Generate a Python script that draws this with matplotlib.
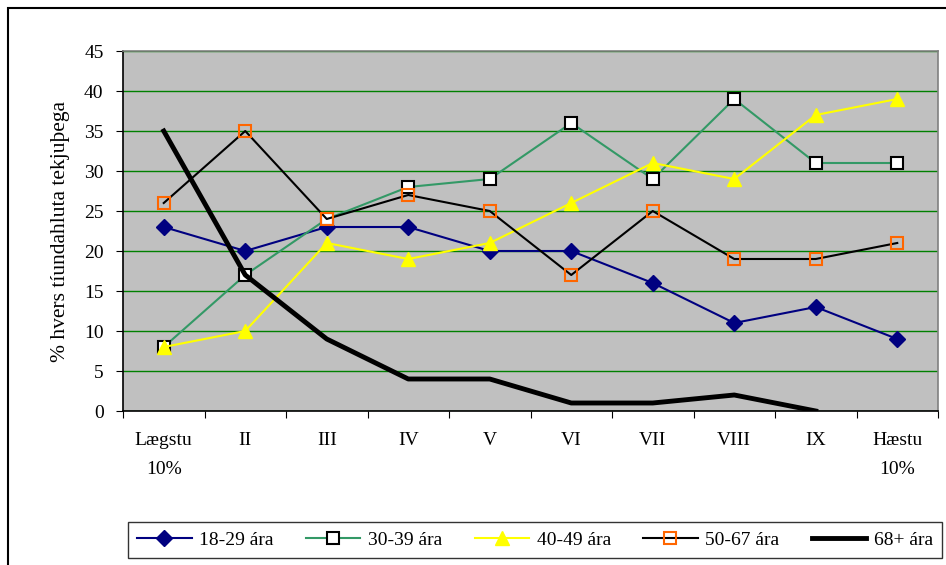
import matplotlib
matplotlib.use("Agg")
import matplotlib.pyplot as plt
from matplotlib.patches import Rectangle
import numpy as np

# data
categories = ["Lægstu\n10%", "II", "III", "IV", "V", "VI", "VII", "VIII", "IX", "Hæstu\n10%"]
age_18_29 = [23, 20, 23, 23, 20, 20, 16, 11, 13, 9]
age_30_39 = [8, 17, 24, 28, 29, 36, 29, 39, 31, 31]
age_40_49 = [8, 10, 21, 19, 21, 26, 31, 29, 37, 39]
age_50_67 = [26, 35, 24, 27, 25, 17, 25, 19, 19, 21]
age_68 = [35, 17, 9, 4, 4, 1, 1, 2, 0, np.nan]
labels = ["18-29 ára", "30-39 ára", "40-49 ára", "50-67 ára", "68+ ára"]

plt.rcParams['font.family'] = ['Liberation Serif', 'DejaVu Serif']
plt.rcParams['font.size'] = 14

fig = plt.figure(figsize=(9.46, 5.65), dpi=100)
ax = fig.add_axes([123/946, 1 - 411/565, (938 - 123)/946, (411 - 51)/565])
ax.set_facecolor('#C0C0C0')

x = np.arange(len(categories))
ax.plot(x, age_18_29, color='#000080', lw=1.5, marker='D', ms=8,
        mfc='#000080', mec='#000080', label=labels[0])
ax.plot(x, age_30_39, color='#339966', lw=1.5, marker='s', ms=8,
        mfc='white', mec='black', mew=1.5, label=labels[1])
ax.plot(x, age_40_49, color='#FFFF00', lw=1.5, marker='^', ms=10,
        mfc='#FFFF00', mec='#FFFF00', label=labels[2])
ax.plot(x, age_50_67, color='black', lw=1.5, marker='s', ms=8,
        mfc='none', mec='#FF6600', mew=1.5, label=labels[3])
ax.plot(x, age_68, color='black', lw=3.5, label=labels[4])

ax.set_xlim(-0.5, len(categories) - 0.5)
ax.set_ylim(0, 45)
ax.set_yticks(range(0, 46, 5))
ax.yaxis.grid(True, color='#008000', lw=1)
ax.set_axisbelow(True)

# category ticks sit between categories, labels centred
ax.set_xticks(np.arange(-0.5, len(categories), 1))
ax.set_xticklabels([])
ax.set_xticks(x, minor=True)
ax.set_xticklabels(categories, minor=True, linespacing=1.95)
ax.tick_params(axis='x', which='minor', length=0, pad=15)
ax.tick_params(axis='x', which='major', length=5, direction='out', color='black')
ax.tick_params(axis='y', length=5, direction='out', pad=9)

ax.spines['left'].set_color('black')
ax.spines['bottom'].set_color('black')
ax.spines['top'].set_color('#808080')
ax.spines['right'].set_color('#808080')
for s in ax.spines.values():
    s.set_linewidth(1.2)

ax.set_ylabel('% hvers tíundahluta tekjuþega', fontsize=15.5, labelpad=10)

leg = fig.legend(loc='center', bbox_to_anchor=(535/946, 1 - 540/565), ncol=5,
                 frameon=True, fancybox=False, edgecolor='black',
                 handlelength=2.8, columnspacing=1.65, handletextpad=0.4,
                 borderpad=0.45)
leg.get_frame().set_linewidth(1.0)

# outer chart frame, runs off the right and bottom edges
fig.patches.append(Rectangle((8/946, -0.1), 1.2, 1 - 8/565 + 0.1,
                             transform=fig.transFigure, fill=False,
                             edgecolor='black', lw=1.5))

fig.savefig('out.png', dpi=100)
